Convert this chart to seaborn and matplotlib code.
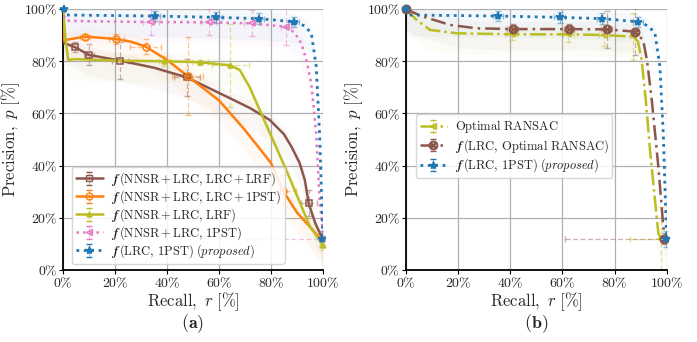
import numpy as np
import pandas as pd
import matplotlib
matplotlib.use("Agg")
import matplotlib.pyplot as plt
import seaborn as sns

# ---------------- data ----------------
# Panel (a)
brown_r = [0, 0.3, 4.6, 10, 22, 35, 47.6, 63, 72, 79.5, 85, 88, 91, 93, 94.5, 97, 100]
brown_p = [100, 87, 85.4, 82.4, 80.2, 77.5, 73.8, 66.4, 62, 57.5, 52, 47, 41, 34.5, 25.5, 18, 11.5]
brown_mr = [4.6, 10, 22, 47.6, 94.5]
brown_mp = [85.4, 82.4, 80.2, 73.8, 25.5]
brown_xe = [1, 2, 3, 5, 3]
brown_ye = [2, 4, 7, 7, 5]

orange_r = [0, 0.5, 3, 8.5, 14, 20.5, 26, 31.8, 40, 47.9, 60, 70, 80, 84.6, 90, 100]
orange_p = [100, 88, 88.5, 89.4, 89, 88.5, 87.5, 85.6, 80.5, 74.3, 65, 53.6, 41, 30.4, 22, 11]
orange_mr = [8.5, 20.5, 31.8, 47.9, 84.6]
orange_mp = [89.4, 88.5, 85.6, 74.3, 30.4]
orange_xe = [2, 3, 6, 6, 5]
orange_ye = [1, 2, 3, 15, 6]

green_r = [0, 1, 2, 5, 21, 39, 52.8, 64.4, 68, 71.8, 78, 86, 95, 100]
green_p = [100, 88, 80.5, 80.8, 80.2, 80, 79.6, 78.4, 76.6, 70, 56, 38, 16.6, 9.6]
green_mr = [39, 52.8, 64.4, 100]
green_mp = [80, 79.6, 78.4, 9.6]
green_xe = [2, 3, 7, 1]
green_ye = [2, 1, 16, 2]

pink_r = [0, 0.5, 1.5, 10, 33.8, 56, 72.7, 85.7, 89, 91.7, 93.7, 95.5, 97.4, 98.7, 100]
pink_p = [100, 97, 95.5, 95.3, 95, 94.9, 94.5, 93.2, 91, 86.8, 80, 71.5, 52, 27, 14]
pink_mr = [33.8, 56, 72.7, 85.7, 99.5]
pink_mp = [95, 94.9, 94.5, 93.2, 12]
pink_xe = [3, 3, 3, 2, 29]
pink_ye = [5, 5, 5, 7, 2]

blue_r = [0, 0.5, 1.4, 35.3, 59, 75.3, 88.9, 93, 95.5, 97.4, 98.7, 99.7, 100]
blue_p = [100, 99, 97.7, 97.3, 96.8, 96.3, 95.1, 93.5, 90.7, 78, 52, 20, 12]
blue_mr = [0.3, 35.3, 59, 75.3, 88.9, 99.8]
blue_mp = [100, 97.3, 96.8, 96.3, 95.1, 12]
blue_xe = [0.5, 2, 2, 2, 2, 1]
blue_ye = [0.5, 2, 2, 2, 2, 3]

# Panel (b)
opt_r = [0, 4.2, 9.3, 19.5, 40.6, 62.3, 76, 87.2, 89, 90.4, 92, 93.6, 96.8, 98, 99.4]
opt_p = [100, 95.8, 92, 90.7, 90.3, 90.3, 90, 89.4, 87.5, 80.5, 65, 46, 14, 12, 11.5]
opt_mr = [40.6, 62.3, 76, 87, 98]
opt_mp = [90.3, 90.3, 90, 89.5, 12]
opt_xe = [2, 2, 2, 1, 12]
opt_ye = [2, 3, 4, 9, 12]

lo_r = [0, 6, 17, 27.2, 41, 62.6, 77, 87.9, 91, 92.5, 94.3, 96.8, 98.7, 99.4]
lo_p = [100, 97.3, 93.9, 92.6, 92.3, 92.3, 92.2, 91.3, 88, 80, 65, 39.6, 16.6, 12.5]
lo_mr = [0.3, 41, 62.6, 77, 87.9, 99]
lo_mp = [100, 92.3, 92.3, 92.2, 91.3, 12]
lo_xe = [0.5, 2, 2, 2, 1.5, 38]
lo_ye = [0.5, 2, 2, 7, 9, 2]

# ---------------- style ----------------
sns.set_theme(style="whitegrid")
plt.rcParams.update({
    "mathtext.fontset": "cm",
    "font.family": ["DejaVu Serif"],
    "axes.edgecolor": "black",
    "grid.color": "#b0b0b0",
    "grid.linewidth": 0.9,
    "axes.facecolor": "white",
})

C_BROWN, C_ORANGE, C_GREEN = "#8c564b", "#ff7f0e", "#bcbd22"
C_PINK, C_BLUE = "#e377c2", "#1f77b4"

fig = plt.figure(figsize=(6.97, 3.42), dpi=100)
axA = fig.add_axes([63 / 697, 72 / 342, 260 / 697, 261 / 342])
axB = fig.add_axes([405.7 / 697, 72 / 342, 261 / 697, 261 / 342])


def series(ax, r, p, mr, mp, xe, ye, color, ls, marker, lw, label, ms=5, mfc="none"):
    df = pd.DataFrame({"r": r, "p": p})
    sns.lineplot(data=df, x="r", y="p", ax=ax, color=color, linestyle=ls,
                 linewidth=lw, sort=False, estimator=None, legend=False, zorder=3)
    # faint uncertainty band
    ax.fill_between(r, np.clip(np.array(p) - 8, 0, 100), np.clip(np.array(p) + 3, 0, 100),
                    color=color, alpha=0.04, linewidth=0, zorder=1)
    eb = ax.errorbar(mr, mp, xerr=xe, yerr=ye, fmt="none", ecolor=color, elinewidth=0.9,
                     capsize=2, alpha=0.45, zorder=2)
    for l in eb[2]:
        l.set_linestyle((0, (4, 2)))
    ax.plot(mr, mp, linestyle="none", marker=marker, markersize=ms, mfc=mfc,
            mec=color, mew=1.1, color=color, zorder=4, clip_on=False)
    h = ax.errorbar([np.nan], [np.nan], yerr=[1], color=color, linestyle=ls, linewidth=lw,
                    marker=marker, markersize=ms, mfc=mfc, mec=color, ecolor=color,
                    elinewidth=0.8, capsize=2, label=label)
    h[2][0].set_alpha(0.4)
    return h


F = r"$\mathbfit{f}\,"
hA = []
hA.append(series(axA, brown_r, brown_p, brown_mr, brown_mp, brown_xe, brown_ye, C_BROWN, "-", "s", 1.8,
                 F + r"(\mathrm{NNSR\,{+}\,LRC,\,LRC\,{+}\,LRF})$"))
hA.append(series(axA, orange_r, orange_p, orange_mr, orange_mp, orange_xe, orange_ye, C_ORANGE, "-", "o", 1.8,
                 F + r"(\mathrm{NNSR\,{+}\,LRC,\,LRC\,{+}\,1PST})$"))
hA.append(series(axA, green_r, green_p, green_mr, green_mp, green_xe, green_ye, C_GREEN, "-", "^", 1.8,
                 F + r"(\mathrm{NNSR\,{+}\,LRC,\,LRF})$", ms=3.5, mfc=C_GREEN))
hA.append(series(axA, pink_r, pink_p, pink_mr, pink_mp, pink_xe, pink_ye, C_PINK, ":", "<", 1.8,
                 F + r"(\mathrm{NNSR\,{+}\,LRC,\,1PST})$"))
hA.append(series(axA, blue_r, blue_p, blue_mr, blue_mp, blue_xe, blue_ye, C_BLUE, ":", "*", 2.0,
                 F + r"(\mathrm{LRC,\,1PST})\;(\mathit{proposed})$", ms=6, mfc=C_BLUE))

hB = []
hB.append(series(axB, opt_r, opt_p, opt_mr, opt_mp, opt_xe, opt_ye, C_GREEN, "-.", "<", 1.8,
                 r"$\mathrm{Optimal\ RANSAC}$"))
hB.append(series(axB, lo_r, lo_p, lo_mr, lo_mp, lo_xe, lo_ye, C_BROWN, (0, (6, 2, 1, 2)), r"$\otimes$", 1.8,
                 F + r"(\mathrm{LRC,\,Optimal\ RANSAC})$", ms=6, mfc=C_BROWN))
hB.append(series(axB, blue_r, blue_p, blue_mr, blue_mp, blue_xe, blue_ye, C_BLUE, ":", "*", 2.0,
                 F + r"(\mathrm{LRC,\,1PST})\;(\mathit{proposed})$", ms=6, mfc=C_BLUE))

ticks = [0, 20, 40, 60, 80, 100]
tlabels = [r"$%d\%%$" % t for t in ticks]
for ax, lab in ((axA, r"$\mathbf{(a)}$"), (axB, r"$\mathbf{(b)}$")):
    ax.set_xlim(0, 100)
    ax.set_ylim(0, 100)
    ax.set_xticks(ticks)
    ax.set_yticks(ticks)
    ax.set_xticklabels(tlabels, fontsize=10)
    ax.set_yticklabels(tlabels, fontsize=10)
    ax.tick_params(axis="both", which="both", direction="out", length=3, width=0.8,
                   color="black", pad=1, bottom=True, left=True)
    ax.set_xlabel(r"$\mathrm{Recall,}\ r\ [\%]$", fontsize=12, labelpad=0)
    ax.set_ylabel(r"$\mathrm{Precision,}\ p\ [\%]$", fontsize=12, labelpad=1)
    for s in ("top", "right"):
        ax.spines[s].set_visible(False)
    for s in ("left", "bottom"):
        ax.spines[s].set_linewidth(1.3)
        ax.spines[s].set_color("black")
    ax.text(0.5, -0.205, lab, transform=ax.transAxes, ha="center", va="center", fontsize=13)

legA = axA.legend(handles=hA, loc="lower left", bbox_to_anchor=(0.01, 0.0), fontsize=9,
                  frameon=True, fancybox=True, edgecolor="#d0d0d0", framealpha=0.85,
                  handlelength=2.2, labelspacing=0.02, borderpad=0.3, handletextpad=0.6,
                  handleheight=0.6)
legB = axB.legend(handles=hB, loc="upper left", bbox_to_anchor=(0.015, 0.62), fontsize=9,
                  frameon=True, fancybox=True, edgecolor="#d0d0d0", framealpha=0.85,
                  handlelength=2.2, labelspacing=0.15, borderpad=0.3, handletextpad=0.6,
                  handleheight=0.6)

fig.savefig("out.png", dpi=100)
